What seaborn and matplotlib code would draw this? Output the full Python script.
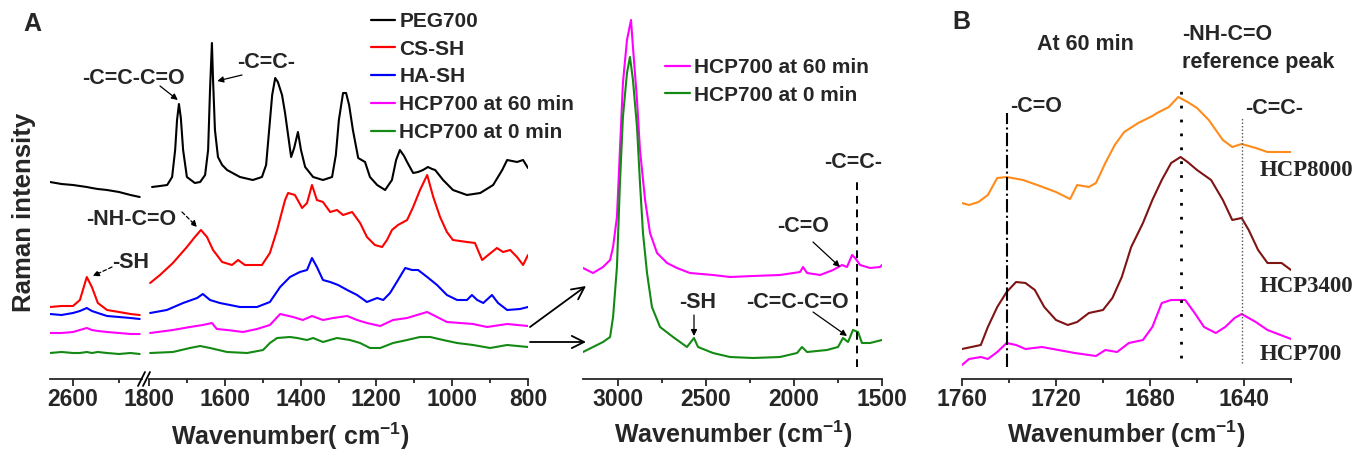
import matplotlib
matplotlib.use("Agg")
import matplotlib.pyplot as plt
import seaborn as sns
from matplotlib.lines import Line2D
from matplotlib.ticker import FixedLocator

sns.set_style("ticks")
plt.rcParams["font.family"] = ["Liberation Sans", "DejaVu Sans"]
plt.rcParams["font.weight"] = "bold"
plt.rcParams["mathtext.fontset"] = "custom"
plt.rcParams["mathtext.rm"] = "Liberation Sans:bold"
plt.rcParams["mathtext.bf"] = "Liberation Sans:bold"
plt.rcParams["mathtext.it"] = "Liberation Sans:bold"

# ---------------- panel A, left part of broken axis (2650-2450 cm-1)
a_left_wn = [2650, 2625, 2600, 2585, 2570, 2559, 2546, 2526, 2500, 2475, 2455]
peg_left = [197, 195, 194, 193, 192, 191, 190, 189, 187, 184, 182]
cs_left = [72, 73, 73, 79, 102, 92, 76, 69, 67, 65, 64]
ha_left = [65, 64, 66, 68, 71, 68, 66, 63, 62, 61, 60]
hcp60_left = [46, 46, 47, 49, 51, 49, 48, 47, 46, 45, 45]
hcp0_left = [26, 27, 26, 26, 27, 26, 27, 26, 25, 26, 25]

# ---------------- panel A, right part (1800-800 cm-1)
peg_wn = [1792, 1771, 1752, 1739, 1731, 1726, 1721, 1716, 1710, 1700, 1679, 1665,
          1652, 1644, 1639, 1634, 1631, 1626, 1618, 1607, 1594, 1560, 1526, 1502,
          1491, 1483, 1475, 1467, 1460, 1449, 1441, 1433, 1425, 1417, 1407, 1399,
          1388, 1367, 1341, 1317, 1307, 1299, 1288, 1280, 1272, 1262, 1248, 1230,
          1217, 1198, 1177, 1159, 1148, 1138, 1127, 1119, 1103, 1090, 1077, 1064,
          1053, 1045, 1024, 998, 961, 926, 892, 868, 855, 829, 813, 800]
peg_int = [192, 193, 194, 202, 229, 259, 275, 261, 229, 202, 196, 197,
           204, 229, 289, 336, 299, 249, 222, 214, 209, 202, 199, 202,
           214, 249, 284, 301, 297, 284, 266, 244, 222, 231, 247, 229,
           212, 202, 199, 202, 224, 259, 286, 286, 274, 249, 221, 217,
           202, 194, 189, 199, 219, 229, 223, 217, 206, 207, 209, 212,
           210, 209, 199, 189, 184, 186, 194, 209, 219, 217, 219, 211]

cs_wn = [1797, 1771, 1737, 1700, 1679, 1663, 1647, 1631, 1607, 1581, 1565, 1547,
         1502, 1481, 1462, 1441, 1433, 1415, 1396, 1383, 1370, 1357, 1341, 1322,
         1304, 1288, 1264, 1243, 1225, 1204, 1185, 1172, 1159, 1143, 1119, 1103,
         1085, 1066, 1050, 1032, 1014, 998, 961, 940, 921, 905, 882, 866, 847,
         829, 813, 800]
cs_int = [96, 104, 116, 132, 142, 149, 142, 129, 117, 114, 119, 114,
          114, 126, 149, 179, 186, 184, 171, 176, 194, 179, 177, 167,
          169, 164, 167, 156, 142, 134, 132, 139, 149, 154, 159, 172,
          189, 204, 182, 162, 147, 139, 137, 136, 119, 124, 131, 127, 129,
          122, 114, 124]

ha_wn = [1797, 1753, 1710, 1673, 1658, 1639, 1613, 1560, 1515, 1481, 1454, 1428,
         1402, 1383, 1370, 1357, 1341, 1322, 1301, 1277, 1251, 1225, 1198, 1182,
         1164, 1143, 1124, 1106, 1090, 1066, 1040, 1014, 987, 961, 948, 934, 918,
         895, 879, 855, 821, 800]
ha_int = [66, 69, 76, 81, 85, 79, 76, 72, 72, 77, 92, 102,
          107, 109, 121, 112, 99, 97, 94, 89, 84, 77, 81, 79,
          86, 99, 111, 109, 109, 102, 94, 84, 79, 79, 84, 79, 76,
          84, 76, 69, 70, 72]

hcp60_wn = [1797, 1737, 1692, 1658, 1634, 1621, 1594, 1552, 1515, 1481, 1454, 1420,
            1394, 1370, 1341, 1314, 1277, 1251, 1225, 1190, 1156, 1119, 1093, 1066,
            1040, 1014, 979, 945, 908, 855, 800]
hcp60_int = [46, 49, 52, 54, 56, 50, 49, 47, 50, 54, 65, 62,
             59, 63, 59, 61, 63, 59, 56, 53, 59, 61, 64, 67,
             62, 57, 56, 55, 52, 55, 53]

hcp0_wn = [1797, 1737, 1692, 1665, 1639, 1594, 1541, 1499, 1481, 1462, 1428, 1409,
           1383, 1367, 1341, 1304, 1270, 1243, 1217, 1190, 1156, 1119, 1085, 1058,
           1024, 987, 945, 900, 855, 800]
hcp0_int = [26, 27, 31, 33, 31, 27, 26, 29, 36, 41, 42, 41,
            39, 41, 37, 41, 39, 36, 31, 31, 36, 39, 42, 42,
            39, 36, 34, 31, 34, 32]

# ---------------- middle panel (3200-1500 cm-1)
mid60_wn = [3200, 3143, 3086, 3046, 3029, 3007, 2990, 2973, 2950, 2927, 2916, 2893,
            2876, 2847, 2819, 2779, 2722, 2666, 2592, 2461, 2364, 2233, 2080, 1966,
            1949, 1926, 1852, 1778, 1727, 1699, 1670, 1653, 1625, 1568, 1511, 1500]
mid60_int = [111, 106, 112, 119, 132, 162, 229, 296, 339, 359, 332, 279,
             229, 179, 146, 126, 116, 111, 106, 104, 102, 103, 104, 107,
             112, 106, 104, 109, 114, 112, 124, 121, 114, 111, 112, 114]

mid0_wn = [3200, 3143, 3086, 3046, 3029, 3007, 2990, 2973, 2950, 2933, 2916, 2893,
           2876, 2859, 2836, 2808, 2762, 2688, 2609, 2569, 2546, 2461, 2364, 2233,
           2080, 1983, 1955, 1926, 1813, 1750, 1722, 1693, 1665, 1636, 1614, 1568,
           1500]
mid0_int = [27, 32, 37, 42, 62, 112, 196, 262, 306, 322, 299, 252,
            196, 146, 106, 72, 52, 42, 32, 41, 32, 26, 22, 21,
            22, 26, 32, 27, 29, 32, 41, 37, 49, 47, 36, 36,
            39]

# ---------------- panel B (1760-1620 cm-1)
b8000_wn = [1760, 1757, 1753, 1749, 1745, 1741, 1734, 1728, 1720, 1714, 1711, 1706,
            1703, 1699, 1695, 1691, 1685, 1679, 1677, 1672, 1668, 1664, 1660, 1655,
            1649, 1645, 1641, 1635, 1630, 1626, 1620]
b8000_int = [176, 174, 177, 184, 201, 202, 199, 194, 187, 180, 194, 192,
             196, 216, 234, 247, 256, 263, 266, 272, 282, 277, 271, 259,
             239, 232, 235, 231, 227, 227, 227]

b3400_wn = [1760, 1756, 1752, 1749, 1745, 1741, 1737, 1733, 1729, 1725, 1720, 1715,
            1711, 1706, 1700, 1696, 1692, 1688, 1683, 1679, 1675, 1671, 1667, 1664,
            1660, 1654, 1649, 1645, 1641, 1638, 1634, 1630, 1624, 1620]
b3400_int = [30, 32, 34, 52, 72, 87, 97, 96, 89, 72, 59, 54,
             57, 66, 69, 81, 102, 132, 156, 179, 199, 216, 222, 217,
             209, 199, 179, 159, 161, 149, 129, 116, 116, 109]

b700_wn = [1760, 1757, 1752, 1749, 1745, 1741, 1737, 1733, 1726, 1719, 1712, 1703,
           1699, 1694, 1689, 1683, 1679, 1675, 1671, 1665, 1661, 1657, 1652, 1648,
           1644, 1641, 1635, 1630, 1620]
b700_int = [14, 20, 22, 20, 27, 36, 34, 30, 32, 29, 26, 23,
            29, 27, 36, 39, 52, 76, 79, 79, 66, 52, 46, 52,
            61, 65, 57, 49, 40]

legend_a = ["PEG700", "CS-SH", "HA-SH", "HCP700 at 60 min", "HCP700 at 0 min"]
colors_a = ["black", "#ff0000", "#0000ff", "#ff00ff", "#138a13"]
legend_mid = ["HCP700 at 60 min", "HCP700 at 0 min"]
labels_b = ["HCP8000", "HCP3400", "HCP700"]
colors_b = ["#ff8c1a", "#7f1414", "#ff00ff"]

W, H = 1370, 458
fig = plt.figure(figsize=(13.7, 4.58), dpi=100)


def px(x, y):
    return (x / W, 1 - y / H)


def make_ax(x0, x1, xlim):
    ax = fig.add_axes([x0 / W, (H - 379) / H, (x1 - x0) / W, 369 / H])
    ax.set_xlim(*xlim)
    ax.set_ylim(0, 369)
    ax.patch.set_alpha(0)
    for s in ["left", "right", "top"]:
        ax.spines[s].set_visible(False)
    ax.spines["bottom"].set_linewidth(1.3)
    ax.set_yticks([])
    ax.tick_params(axis="x", which="major", direction="out", length=5, width=1.3,
                   labelsize=16.5, pad=1.5)
    ax.tick_params(axis="x", which="minor", direction="out", length=3, width=1.3)
    ax.set_xlabel("")
    ax.set_ylabel("")
    return ax


def draw(ax, wn, vals, color):
    sns.lineplot(x=wn, y=vals, ax=ax, color=color, lw=1.5, sort=False,
                 estimator=None, legend=False)


axL = make_ax(50, 142, (2650, 2450))
axR = make_ax(149, 528, (1800, 800))
axM = make_ax(583, 882, (3200, 1500))
axB = make_ax(962, 1291, (1760, 1620))

axL.xaxis.set_major_locator(FixedLocator([2600]))
axL.xaxis.set_minor_locator(FixedLocator([2500]))
axR.xaxis.set_major_locator(FixedLocator([1800, 1600, 1400, 1200, 1000, 800]))
axR.xaxis.set_minor_locator(FixedLocator([1700, 1500, 1300, 1100, 900]))
axM.xaxis.set_major_locator(FixedLocator([3000, 2500, 2000, 1500]))
axM.xaxis.set_minor_locator(FixedLocator([2750, 2250, 1750]))
axB.xaxis.set_major_locator(FixedLocator([1760, 1720, 1680, 1640]))
axB.xaxis.set_minor_locator(FixedLocator([1740, 1700, 1660, 1620]))

left_sets = [peg_left, cs_left, ha_left, hcp60_left, hcp0_left]
right_sets = [(peg_wn, peg_int), (cs_wn, cs_int), (ha_wn, ha_int),
              (hcp60_wn, hcp60_int), (hcp0_wn, hcp0_int)]
for vals, (wn, iv), c in zip(left_sets, right_sets, colors_a):
    draw(axL, a_left_wn, vals, c)
    draw(axR, wn, iv, c)

draw(axM, mid60_wn, mid60_int, colors_a[3])
draw(axM, mid0_wn, mid0_int, colors_a[4])

for (wn, iv), c in zip([(b8000_wn, b8000_int), (b3400_wn, b3400_int),
                        (b700_wn, b700_int)], colors_b):
    draw(axB, wn, iv, c)

# break marks on the panel A axis
for dx in (0, 5):
    fig.add_artist(Line2D([(138 + dx) / W, (145 + dx) / W],
                          [1 - 386 / H, 1 - 372 / H], color="black", lw=1.3))

# legends
h_a = [Line2D([], [], color=c, lw=1.6) for c in colors_a]
axR.legend(h_a, legend_a, loc="upper left", bbox_to_anchor=px(371, 12),
           bbox_transform=fig.transFigure, frameon=False, fontsize=15,
           handlelength=1.15, handletextpad=0.2, labelspacing=0.42,
           borderpad=0, borderaxespad=0)
h_m = [Line2D([], [], color=c, lw=1.6) for c in colors_a[3:]]
axM.legend(h_m, legend_mid, loc="upper left", bbox_to_anchor=px(665, 58),
           bbox_transform=fig.transFigure, frameon=False, fontsize=15,
           handlelength=1.2, handletextpad=0.2, labelspacing=0.42,
           borderpad=0, borderaxespad=0)

# axis titles
fig.text(*px(32, 24), "A", fontsize=18, ha="center", va="center")
fig.text(*px(961, 22), "B", fontsize=18, ha="center", va="center")
fig.text(*px(24, 212), "Raman intensity", fontsize=18.5, rotation=90,
         ha="center", va="center")
fig.text(*px(290, 436), r"Wavenumber( cm$^{-1}$)", fontsize=18,
         ha="center", va="center")
fig.text(*px(733, 434), r"Wavenumber (cm$^{-1}$)", fontsize=18,
         ha="center", va="center")
fig.text(*px(1126, 434), r"Wavenumber (cm$^{-1}$)", fontsize=18,
         ha="center", va="center")

solid = dict(arrowstyle="-|>", color="black", lw=0.9, mutation_scale=9,
             shrinkA=0, shrinkB=0)
dashed = dict(arrowstyle="-|>", color="black", lw=0.9, mutation_scale=9,
              shrinkA=0, shrinkB=0, linestyle=(0, (3, 2)))

# panel A annotations
fig.text(*px(133, 78), "-C=C-C=O", fontsize=15.5, ha="center", va="center")
axR.annotate("", xy=(1724, 279), xytext=px(160, 86), textcoords="figure fraction",
             arrowprops=solid, annotation_clip=False)
fig.text(*px(266, 62), "-C=C-", fontsize=15.5, ha="center", va="center")
axR.annotate("", xy=(1620, 298), xytext=px(242, 75), textcoords="figure fraction",
             arrowprops=solid, annotation_clip=False)
fig.text(*px(131, 219), "-NH-C=O", fontsize=15.5, ha="center", va="center")
axR.annotate("", xy=(1673, 152), xytext=px(182, 212), textcoords="figure fraction",
             arrowprops=dashed, annotation_clip=False)
fig.text(*px(131, 262), "-SH", fontsize=15.5, ha="center", va="center")
axL.annotate("", xy=(2557, 103), xytext=px(112, 267), textcoords="figure fraction",
             arrowprops=dashed, annotation_clip=False)

# arrows linking panel A to the zoomed spectra
big = dict(arrowstyle="->", color="black", lw=1.3, mutation_scale=22,
           shrinkA=0, shrinkB=0)
axR.annotate("", xy=px(586, 286), xycoords="figure fraction", xytext=px(530, 327),
             textcoords="figure fraction", arrowprops=big, annotation_clip=False)
axR.annotate("", xy=px(586, 342), xycoords="figure fraction", xytext=px(530, 342),
             textcoords="figure fraction", arrowprops=big, annotation_clip=False)

# middle panel annotations
axM.plot([1640, 1640], [12, 197], color="black", lw=1.4, ls=(0, (4, 3)))
fig.text(*px(853, 163), "-C=C-", fontsize=15.5, ha="center", va="center")
fig.text(*px(803, 227), "-C=O", fontsize=15.5, ha="center", va="center")
axM.annotate("", xy=(1739, 112), xytext=px(813, 242), textcoords="figure fraction",
             arrowprops=solid, annotation_clip=False)
fig.text(*px(698, 302), "-SH", fontsize=15.5, ha="center", va="center")
axM.annotate("", xy=(2569, 43), xytext=px(694, 315), textcoords="figure fraction",
             arrowprops=solid, annotation_clip=False)
fig.text(*px(797, 302), "-C=C-C=O", fontsize=15.5, ha="center", va="center")
axM.annotate("", xy=(1699, 43), xytext=px(813, 312), textcoords="figure fraction",
             arrowprops=solid, annotation_clip=False)

# panel B reference lines and labels
axB.plot([1741, 1741], [12, 266], color="black", lw=1.5, ls="-.")
axB.plot([1667, 1667], [21, 297], color="black", lw=2.0, ls=(0, (1, 4)))
axB.plot([1641, 1641], [16, 261], color="#555555", lw=1.0, ls=(0, (1, 1.5)))
fig.text(*px(1085, 45), "At 60 min", fontsize=15.5, ha="center", va="center")
fig.text(*px(1182, 35), "-NH-C=O", fontsize=15.5, ha="left", va="center")
fig.text(*px(1182, 63), "reference peak", fontsize=15.5, ha="left", va="center")
fig.text(*px(1010, 107), "-C=O", fontsize=15.5, ha="left", va="center")
fig.text(*px(1245, 108), "-C=C-", fontsize=15.5, ha="left", va="center")
for lab, y in zip(labels_b, [170, 287, 355]):
    fig.text(*px(1260, y), lab, fontsize=16.5, ha="left", va="center",
             family=["Liberation Serif", "DejaVu Serif"])

fig.savefig("out.png", dpi=100)
